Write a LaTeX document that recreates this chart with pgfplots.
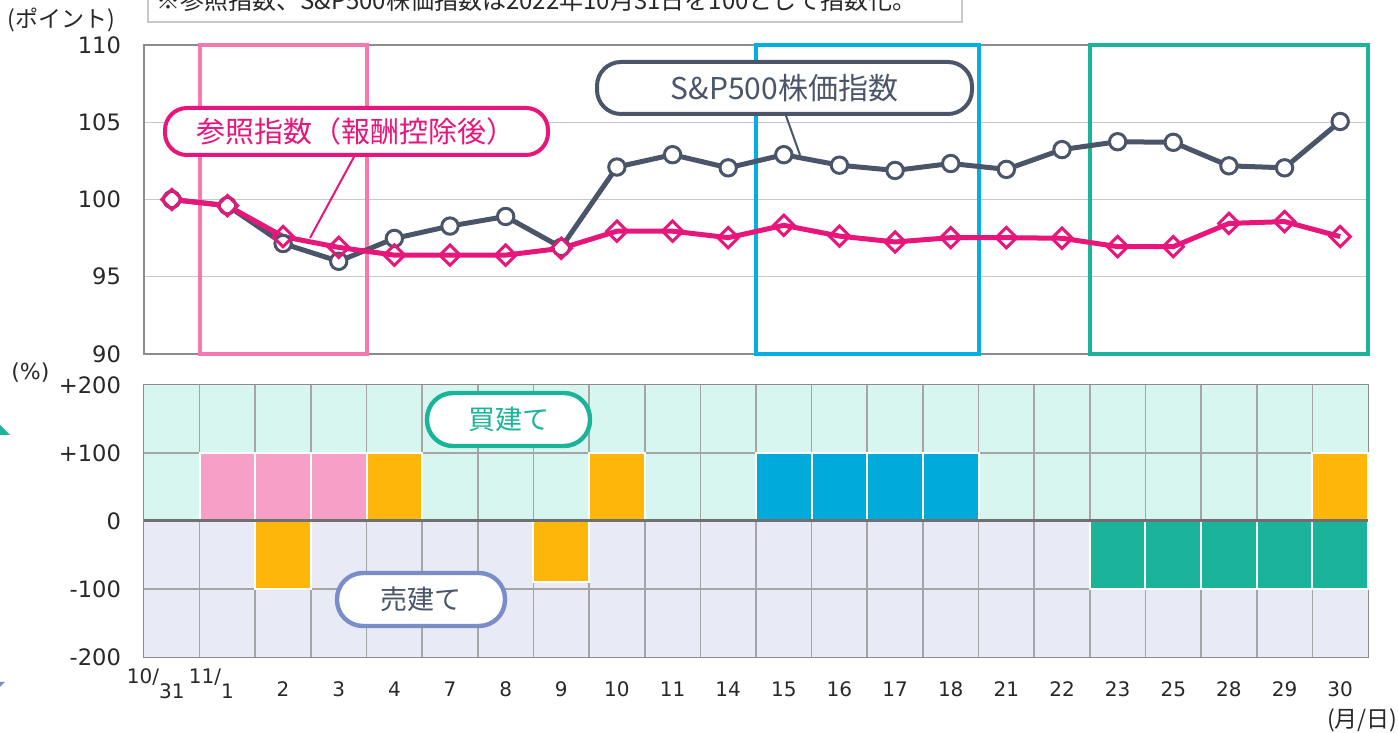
\documentclass[border=0pt]{standalone}
\usepackage{pgfplots}
\pgfplotsset{compat=1.18}
\usepackage{fontspec}
\setmainfont{DejaVu Sans}
\newfontfamily\jp{Noto Sans CJK JP}
\definecolor{spgray}{RGB}{74,85,106}
\definecolor{refpink}{RGB}{232,21,122}
\definecolor{framepink}{RGB}{244,121,176}
\definecolor{frameblue}{RGB}{0,176,224}
\definecolor{framegreen}{RGB}{27,179,154}
\definecolor{barpink}{RGB}{246,160,200}
\definecolor{barorange}{RGB}{255,182,10}
\definecolor{barblue}{RGB}{0,171,219}
\definecolor{bargreen}{RGB}{27,179,154}
\definecolor{mint}{RGB}{216,246,240}
\definecolor{lav}{RGB}{232,235,245}
\definecolor{lavline}{RGB}{121,141,200}
\definecolor{gridlight}{RGB}{200,200,200}
\definecolor{griddark}{RGB}{165,165,165}
\definecolor{framegray}{RGB}{140,140,140}
\definecolor{zerogray}{RGB}{112,112,112}
\definecolor{ticktext}{RGB}{40,40,40}

\pgfplotstableread{
x y
0 100
1 99.6
2 97.15
3 96.0
4 97.48
5 98.28
6 98.9
7 96.9
8 102.1
9 102.9
10 102.05
11 102.9
12 102.22
13 101.88
14 102.33
15 101.95
16 103.23
17 103.74
18 103.7
19 102.18
20 102.05
21 105.05
}\sptable

\pgfplotstableread{
x y
0 100
1 99.6
2 97.6
3 96.9
4 96.4
5 96.4
6 96.4
7 96.84
8 97.95
9 97.95
10 97.53
11 98.33
12 97.63
13 97.25
14 97.53
15 97.53
16 97.49
17 96.95
18 96.95
19 98.45
20 98.57
21 97.6
}\reftable

\begin{document}
\begin{tikzpicture}
% ---------------- top chart ----------------
\begin{axis}[
  at={(72pt,189.5pt)}, anchor=south west, scale only axis,
  width=612pt, height=154.5pt,
  xmin=-0.5, xmax=21.5, ymin=90, ymax=110,
  xtick=\empty,
  minor xtick={0.5,1.5,...,20.5},
  xminorgrids,
  ytick={90,95,...,110},
  ymajorgrids,
  grid style={gridlight, line width=0.7pt},
  minor grid style={gridlight, line width=0.7pt},
  major tick length=0pt, minor tick length=0pt,
  axis line style={framegray, line width=1pt},
  /pgf/number format/assume math mode=true,
  yticklabel style={font=\fontsize{11.3}{13}\selectfont, text=ticktext, xshift=-8pt},
  clip=false,
]
\draw[framepink, line width=2pt] (axis cs:0.5,90) rectangle (axis cs:3.5,110);
\draw[frameblue, line width=2pt] (axis cs:10.5,90) rectangle (axis cs:14.5,110);
\draw[framegreen, line width=2pt] (axis cs:16.5,90) rectangle (axis cs:21.5,110);
\addplot[spgray, line width=2.5pt, mark=*, mark size=4.1pt,
  mark options={fill=white, draw=spgray, line width=1.5pt}] table[x=x,y=y] {\sptable};
\addplot[refpink, line width=2.5pt, mark=square, mark size=3.6pt,
  mark options={fill=white, draw=refpink, line width=1.5pt, rotate=45}] table[x=x,y=y] {\reftable};
\end{axis}

% ---------------- bottom chart ----------------
\begin{axis}[
  at={(72pt,38pt)}, anchor=south west, scale only axis,
  width=612pt, height=136pt,
  xmin=-0.5, xmax=21.5, ymin=-200, ymax=200,
  xtick={0,...,21},
  xticklabels={{\llap{\raisebox{6.5pt}{10/}}\raisebox{-1pt}{31}},{\llap{\raisebox{6.5pt}{11/}}\raisebox{-1pt}{1}},2,3,4,7,8,9,10,11,14,15,16,17,18,21,22,23,25,28,29,30},
  ytick={-200,-100,0,100,200},
  yticklabels={-200,-100,0,+100,+200},
  major tick length=0pt,
  axis line style={framegray, line width=1pt},
  yticklabel style={font=\fontsize{11.3}{13}\selectfont, text=ticktext, xshift=-8pt},
  xticklabel style={font=\fontsize{10}{11}\selectfont, text=ticktext, anchor=base, yshift=-20pt},
  clip=false,
]
\fill[mint] (axis cs:-0.5,0) rectangle (axis cs:21.5,200);
\fill[lav] (axis cs:-0.5,-200) rectangle (axis cs:21.5,0);
\pgfplotsinvokeforeach{0.5,1.5,...,20.5}{\draw[griddark, line width=0.8pt] (axis cs:#1,-200) -- (axis cs:#1,200);}
\draw[griddark, line width=0.8pt] (axis cs:-0.5,100) -- (axis cs:21.5,100);
\draw[griddark, line width=0.8pt] (axis cs:-0.5,-100) -- (axis cs:21.5,-100);
\addplot[ybar, bar width=1, bar shift=0pt, fill=barpink, draw=white, line width=1pt]
  coordinates {(1,100) (2,100) (3,100)};
\addplot[ybar, bar width=1, bar shift=0pt, fill=barorange, draw=white, line width=1pt]
  coordinates {(4,100) (8,100) (21,100) (2,-100) (7,-89)};
\addplot[ybar, bar width=1, bar shift=0pt, fill=barblue, draw=white, line width=1pt]
  coordinates {(11,100) (12,100) (13,100) (14,100)};
\addplot[ybar, bar width=1, bar shift=0pt, fill=bargreen, draw=white, line width=1pt]
  coordinates {(17,-100) (18,-100) (19,-100) (20,-100) (21,-100)};
\draw[zerogray, line width=1.5pt] (axis cs:-0.5,0) -- (axis cs:21.5,0);
\end{axis}

% ---------------- annotations (pixel frame) ----------------
\begin{scope}[shift={(0pt,366.5pt)}, x=0.5pt, y=-0.5pt]
  % note box (cut by page top, as in the reference)
  \draw[gridlight, line width=1pt, fill=white] (148,-40) rectangle (962,22);
  \node[anchor=base west, inner sep=0pt, text=ticktext, font=\jp\fontsize{12}{14}\selectfont] at (156,10)
    {※参照指数、S\&P500株価指数は2022年10月31日を100として指数化。};
  % unit labels
  \node[anchor=west, inner sep=0pt, text=ticktext, font=\jp\fontsize{11.5}{13}\selectfont] at (7,20) {(ポイント)};
  \node[anchor=west, inner sep=0pt, text=ticktext, font=\fontsize{11}{13}\selectfont] at (11,373) {(\%)};
  \node[anchor=east, inner sep=0pt, text=ticktext, font=\jp\fontsize{11.5}{13}\selectfont] at (1398,720) {(月/日)};
  % callouts top
  \draw[refpink, line width=1pt] (355,155) -- (310,238);
  \draw[refpink, line width=2pt, fill=white, rounded corners=11pt] (165,108) rectangle (548,155);
  \node[text=refpink, font=\jp\fontsize{14.5}{16}\selectfont] at (356,131.5) {参照指数（報酬控除後）};
  \draw[spgray, line width=1pt] (785,113) -- (800,155);
  \draw[spgray, line width=2pt, fill=white, rounded corners=12pt] (597,62) rectangle (972,114);
  \node[text=spgray, font=\jp\fontsize{15}{17}\selectfont] at (784.5,88) {S\&P500株価指数};
  % callouts bottom
  \draw[framegreen, line width=2.2pt, fill=white, rounded corners=13pt] (427,393) rectangle (590,446);
  \node[text=framegreen, font=\jp\fontsize{13.5}{16}\selectfont] at (508.5,419.5) {買建て};
  \draw[lavline, line width=2.2pt, fill=white, rounded corners=13pt] (337,573) rectangle (505,626);
  \node[text=spgray, font=\jp\fontsize{13.5}{16}\selectfont] at (421,599.5) {売建て};
  % cut arrows at left edge
  \fill[framegreen] (-25,400) -- (10,435) -- (-60,435) -- cycle;
  \fill[lavline] (-60,682) -- (5,682) -- (-25,712) -- cycle;
\end{scope}
\pgfresetboundingbox
\path[use as bounding box] (0,0) rectangle (699pt,366.5pt);
\end{tikzpicture}
\end{document}
